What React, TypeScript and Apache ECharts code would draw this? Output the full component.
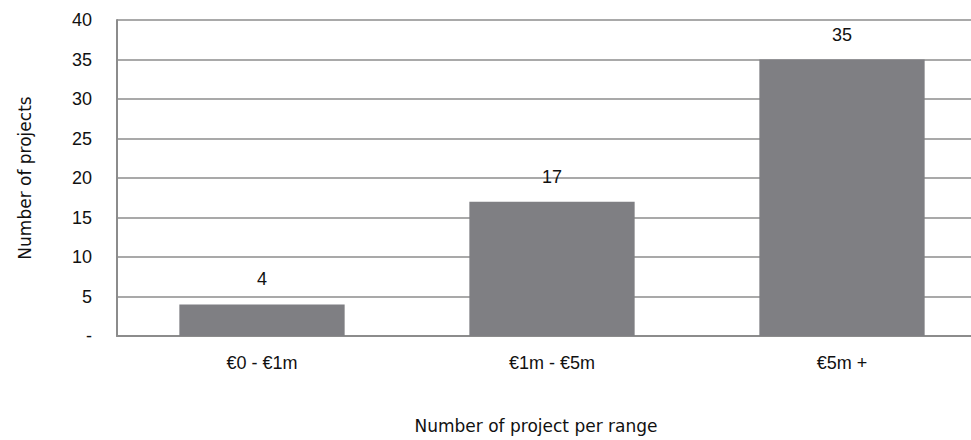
import React, { useEffect, useRef } from "react";
import * as echarts from "echarts";

const categories: string[] = ["€0 - €1m", "€1m - €5m", "€5m +"];
const projectCounts: number[] = [4, 17, 35];
const yMin = 0;
const yMax = 40;
const yStep = 5;
const xTitle = "Number of project per range";
const yTitle = "Number of projects";

export default function App() {
  const ref = useRef<HTMLDivElement>(null);

  useEffect(() => {
    if (!ref.current) return;
    const chart = echarts.init(ref.current, null, { renderer: "svg" });
    chart.setOption({
      animation: false,
      backgroundColor: "#ffffff",
      // the canvas is wider than the window, so the last band is clipped at the right
      grid: { left: 117, right: 0, top: 20, bottom: 104, containLabel: false },
      graphic: [
        {
          type: "text",
          x: 536,
          y: 426,
          style: {
            text: xTitle,
            fontFamily: "DejaVu Sans",
            fontSize: 17,
            fill: "#111",
            textAlign: "center",
            textVerticalAlign: "middle",
          },
        },
      ],
      xAxis: {
        type: "category",
        data: categories,
        axisLine: { show: true, lineStyle: { color: "#8c8c8c", width: 2 } },
        axisTick: { show: false },
        axisLabel: {
          fontFamily: "Liberation Sans",
          fontSize: 18,
          color: "#111",
          margin: 18,
        },
      },
      yAxis: {
        type: "value",
        min: yMin,
        max: yMax,
        interval: yStep,
        name: yTitle,
        nameLocation: "middle",
        nameGap: 84,
        nameTextStyle: { fontFamily: "DejaVu Sans", fontSize: 17, color: "#111" },
        axisLine: { show: true, lineStyle: { color: "#8c8c8c", width: 2 } },
        axisTick: { show: false },
        splitLine: { show: true, lineStyle: { color: "#8c8c8c", width: 1.5 } },
        axisLabel: {
          fontFamily: "Liberation Sans",
          fontSize: 18,
          color: "#111",
          margin: 25,
          formatter: (v: number) => (v === 0 ? "-" : String(v)),
        },
      },
      series: [
        {
          type: "bar",
          data: projectCounts,
          barWidth: "57%",
          itemStyle: { color: "#7f7f83" },
          label: {
            show: true,
            position: "top",
            distance: 16,
            fontFamily: "Liberation Sans",
            fontSize: 18,
            color: "#111",
          },
        },
      ],
    });
    return () => chart.dispose();
  }, []);

  return (
    <div
      ref={ref}
      style={{ position: "fixed", left: 0, top: 0, width: 987, height: 440 }}
    />
  );
}
